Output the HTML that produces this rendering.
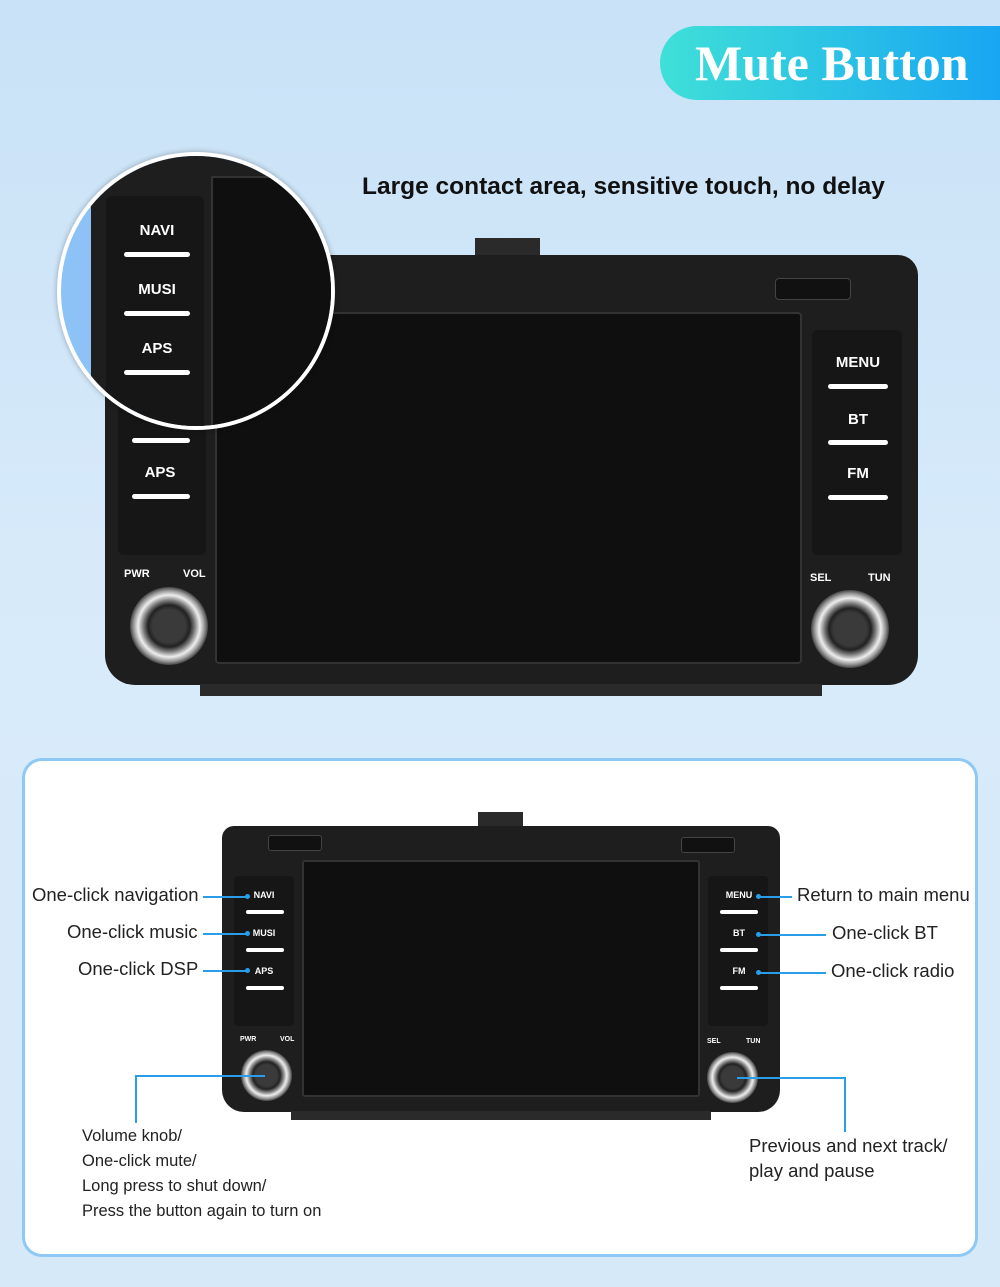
<!DOCTYPE html>
<html><head><meta charset="utf-8"><style>
*{margin:0;padding:0;box-sizing:border-box}
body{width:1000px;height:1287px;overflow:hidden;position:relative;font-family:"Liberation Sans",sans-serif;background:linear-gradient(180deg,#c9e2f7 0%,#d8ebfa 50%,#d5e9f9 100%)}
.a{position:absolute}
.btn{position:absolute;color:#fff;font-weight:bold;text-align:center}
.bar{position:absolute;background:#fff;border-radius:3px}
.lbl{position:absolute;font-size:18.5px;color:#222;white-space:nowrap}
.ln{position:absolute;background:#2a9de8}
.dot{position:absolute;width:5px;height:5px;border-radius:50%;background:#2a9de8}
.knob{position:absolute;border-radius:50%;background:radial-gradient(circle,#3a3a3a 30%,#222 38%,#777 46%,#eee 56%,#999 64%,#333 72%)}
</style></head><body>
<div class="a" style="left:660px;top:26px;width:340px;height:74px;border-radius:37px 0 0 37px;background:linear-gradient(90deg,#3fe0d8,#18a6f2)"></div>
<div class="a" style="left:695px;top:34px;font-family:'Liberation Serif',serif;font-weight:bold;font-size:50px;color:#fff">Mute Button</div>
<div class="a" style="left:362px;top:173px;font-size:24.5px;font-weight:bold;color:#111;white-space:nowrap">Large contact area, sensitive touch, no delay</div>

<!-- big unit -->
<div class="a" style="left:475px;top:238px;width:65px;height:24px;background:#2a2a2a"></div>
<div class="a" style="left:105px;top:255px;width:813px;height:430px;background:#1e1e1e;border-radius:20px 20px 30px 30px"></div>
<div class="a" style="left:775px;top:278px;width:76px;height:22px;background:#111;border-radius:4px;border:1px solid #444"></div>
<div class="a" style="left:215px;top:312px;width:587px;height:352px;background:#0f0f0f;border:2px solid #333;border-radius:4px"></div>
<div class="a" style="left:118px;top:390px;width:88px;height:165px;background:#161616;border-radius:6px"></div>
<div class="btn" style="left:130px;top:464px;width:60px;font-size:15px">APS</div>
<div class="bar" style="left:132px;top:438px;width:58px;height:5px"></div>
<div class="bar" style="left:132px;top:494px;width:58px;height:5px"></div>
<div class="a" style="left:812px;top:330px;width:90px;height:225px;background:#161616;border-radius:6px"></div>
<div class="btn" style="left:828px;top:354px;width:60px;font-size:15px">MENU</div>
<div class="bar" style="left:828px;top:384px;width:60px;height:5px"></div>
<div class="btn" style="left:828px;top:411px;width:60px;font-size:15px">BT</div>
<div class="bar" style="left:828px;top:440px;width:60px;height:5px"></div>
<div class="btn" style="left:828px;top:465px;width:60px;font-size:15px">FM</div>
<div class="bar" style="left:828px;top:495px;width:60px;height:5px"></div>
<div class="btn" style="left:124px;top:568px;font-size:11px">PWR</div>
<div class="btn" style="left:183px;top:568px;font-size:11px">VOL</div>
<div class="btn" style="left:810px;top:572px;font-size:11px">SEL</div>
<div class="btn" style="left:868px;top:572px;font-size:11px">TUN</div>
<div class="knob" style="left:130px;top:587px;width:78px;height:78px"></div>
<div class="knob" style="left:811px;top:590px;width:78px;height:78px"></div>
<div class="a" style="left:200px;top:684px;width:622px;height:12px;background:#2a2a2a"></div>

<!-- magnifier -->
<div class="a" style="left:57px;top:152px;width:278px;height:278px;border-radius:50%;border:4px solid #fff;overflow:hidden;background:#8cc2f6;box-shadow:0 0 6px rgba(0,0,0,.3)">
 <div class="a" style="left:30px;top:0;width:250px;height:280px;background:#1e1e1e"></div>
 <div class="a" style="left:150px;top:20px;width:130px;height:260px;background:#0f0f0f;border:2px solid #333"></div>
 <div class="a" style="left:45px;top:40px;width:98px;height:240px;background:#161616;border-radius:6px"></div>
 <div class="btn" style="left:63px;top:66px;width:66px;font-size:15px">NAVI</div>
 <div class="bar" style="left:63px;top:96px;width:66px;height:5px"></div>
 <div class="btn" style="left:63px;top:125px;width:66px;font-size:15px">MUSI</div>
 <div class="bar" style="left:63px;top:155px;width:66px;height:5px"></div>
 <div class="btn" style="left:63px;top:184px;width:66px;font-size:15px">APS</div>
 <div class="bar" style="left:63px;top:214px;width:66px;height:5px"></div>
</div>

<!-- bottom panel -->
<div class="a" style="left:22px;top:758px;width:956px;height:499px;background:#fff;border:3px solid #8ec8f4;border-radius:20px"></div>
<div class="a" style="left:478px;top:812px;width:45px;height:16px;background:#2a2a2a"></div>
<div class="a" style="left:222px;top:826px;width:558px;height:286px;background:#1e1e1e;border-radius:12px 12px 22px 22px"></div>
<div class="a" style="left:268px;top:835px;width:54px;height:16px;background:#111;border:1px solid #444;border-radius:3px"></div>
<div class="a" style="left:681px;top:837px;width:54px;height:16px;background:#111;border:1px solid #444;border-radius:3px"></div>
<div class="a" style="left:302px;top:860px;width:398px;height:237px;background:#0f0f0f;border:2px solid #333;border-radius:3px"></div>
<div class="a" style="left:234px;top:876px;width:60px;height:150px;background:#161616;border-radius:4px"></div>
<div class="a" style="left:708px;top:876px;width:60px;height:150px;background:#161616;border-radius:4px"></div>
<div class="btn" style="left:244px;top:890px;width:40px;font-size:9px">NAVI</div>
<div class="bar" style="left:246px;top:910px;width:38px;height:4px"></div>
<div class="btn" style="left:244px;top:928px;width:40px;font-size:9px">MUSI</div>
<div class="bar" style="left:246px;top:948px;width:38px;height:4px"></div>
<div class="btn" style="left:244px;top:966px;width:40px;font-size:9px">APS</div>
<div class="bar" style="left:246px;top:986px;width:38px;height:4px"></div>
<div class="btn" style="left:718px;top:890px;width:42px;font-size:9px">MENU</div>
<div class="bar" style="left:720px;top:910px;width:38px;height:4px"></div>
<div class="btn" style="left:718px;top:928px;width:42px;font-size:9px">BT</div>
<div class="bar" style="left:720px;top:948px;width:38px;height:4px"></div>
<div class="btn" style="left:718px;top:966px;width:42px;font-size:9px">FM</div>
<div class="bar" style="left:720px;top:986px;width:38px;height:4px"></div>
<div class="btn" style="left:240px;top:1036px;font-size:7px">PWR</div>
<div class="btn" style="left:280px;top:1036px;font-size:7px">VOL</div>
<div class="btn" style="left:707px;top:1038px;font-size:7px">SEL</div>
<div class="btn" style="left:746px;top:1038px;font-size:7px">TUN</div>
<div class="knob" style="left:241px;top:1050px;width:51px;height:51px"></div>
<div class="knob" style="left:707px;top:1052px;width:51px;height:51px"></div>
<div class="a" style="left:291px;top:1111px;width:420px;height:9px;background:#2a2a2a"></div>

<div class="lbl" style="left:32px;top:884px">One-click navigation</div>
<div class="ln" style="left:203px;top:896px;width:44px;height:2px"></div><div class="dot" style="left:245px;top:894px"></div>
<div class="lbl" style="left:67px;top:921px">One-click music</div>
<div class="ln" style="left:203px;top:933px;width:44px;height:2px"></div><div class="dot" style="left:245px;top:931px"></div>
<div class="lbl" style="left:78px;top:958px">One-click DSP</div>
<div class="ln" style="left:203px;top:970px;width:44px;height:2px"></div><div class="dot" style="left:245px;top:968px"></div>
<div class="lbl" style="left:797px;top:884px">Return to main menu</div>
<div class="ln" style="left:758px;top:896px;width:34px;height:2px"></div><div class="dot" style="left:756px;top:894px"></div>
<div class="lbl" style="left:832px;top:922px">One-click BT</div>
<div class="ln" style="left:758px;top:934px;width:68px;height:2px"></div><div class="dot" style="left:756px;top:932px"></div>
<div class="lbl" style="left:831px;top:960px">One-click radio</div>
<div class="ln" style="left:758px;top:972px;width:68px;height:2px"></div><div class="dot" style="left:756px;top:970px"></div>
<div class="ln" style="left:135px;top:1075px;width:130px;height:2px"></div>
<div class="ln" style="left:135px;top:1075px;width:2px;height:48px"></div>
<div class="ln" style="left:737px;top:1077px;width:109px;height:2px"></div>
<div class="ln" style="left:844px;top:1077px;width:2px;height:55px"></div>
<div class="a" style="left:82px;top:1124px;font-size:16.5px;line-height:25px;color:#222">Volume knob/<br>One-click mute/<br>Long press to shut down/<br>Press the button again to turn on</div>
<div class="a" style="left:749px;top:1133px;font-size:18.5px;line-height:25px;color:#222">Previous and next track/<br>play and pause</div>
</body></html>
